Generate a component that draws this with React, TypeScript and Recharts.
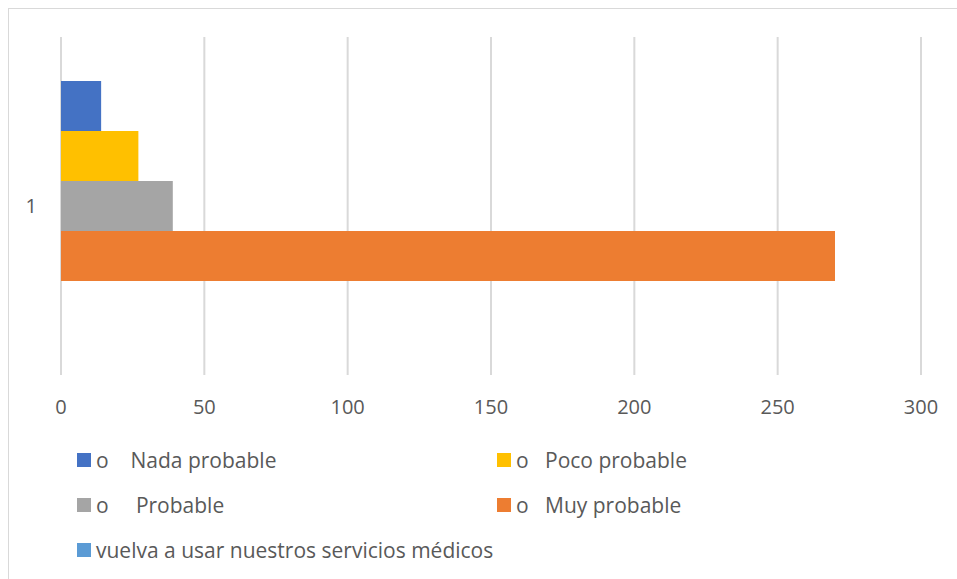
import { BarChart, Bar, XAxis, YAxis, CartesianGrid } from "recharts";

// one category, five response series
const categories = ["1"];
const seriesNames = [
  "o    Nada probable",
  "o   Poco probable",
  "o     Probable",
  "o   Muy probable",
  "vuelva a usar nuestros servicios médicos",
];
const seriesKeys = ["nada", "poco", "probable", "muy", "vuelva"];
const seriesValues = [14, 27, 39, 270, 0];
const seriesColors = ["#4472C4", "#FFC000", "#A5A5A5", "#ED7D31", "#5B9BD5"];
const xTicks = [0, 50, 100, 150, 200, 250, 300];

const data = categories.map((c) => {
  const row: Record<string, string | number> = { name: c };
  seriesKeys.forEach((k, i) => {
    row[k] = seriesValues[i];
  });
  return row;
});

const FONT = "'Open Sans', sans-serif";
const TEXT = "#595959";

export default function App() {
  return (
    <div
      style={{
        position: "fixed",
        left: 8,
        top: 8,
        width: 960,
        height: 580,
        overflow: "hidden",
        borderTop: "1px solid #d9d9d9",
        borderLeft: "1px solid #d9d9d9",
        boxSizing: "border-box",
        background: "#fff",
        fontFamily: FONT,
      }}
    >
      <BarChart
        width={948}
        height={562}
        data={data}
        layout="vertical"
        margin={{ top: 28, right: 36, left: 0, bottom: 156 }}
        barSize={50}
        barGap={0}
      >
        <CartesianGrid horizontal={false} stroke="#d9d9d9" strokeWidth={2} />
        <XAxis
          type="number"
          domain={[0, 300]}
          ticks={xTicks}
          axisLine={false}
          tickLine={false}
          tickMargin={19}
          height={40}
          tick={{ fill: TEXT, fontSize: 20, fontFamily: FONT }}
        />
        <YAxis
          type="category"
          dataKey="name"
          width={52}
          axisLine={false}
          tickLine={false}
          tickMargin={18}
          tick={{ fill: TEXT, fontSize: 20, fontFamily: FONT }}
        />
        {seriesKeys.map((k, i) => (
          <Bar
            key={k}
            dataKey={k}
            name={seriesNames[i]}
            fill={seriesColors[i]}
            isAnimationActive={false}
          />
        ))}
      </BarChart>
      {seriesNames.map((n, i) => (
        <div
          key={n}
          style={{
            position: "absolute",
            left: i % 2 === 0 ? 68 : 488,
            top: 440 + Math.floor(i / 2) * 45,
            height: 22,
            display: "flex",
            alignItems: "center",
            fontSize: 21,
            color: TEXT,
            whiteSpace: "pre",
          }}
        >
          <span
            style={{
              display: "inline-block",
              width: 14,
              height: 14,
              background: seriesColors[i],
              marginRight: 5,
            }}
          />
          {n}
        </div>
      ))}
    </div>
  );
}
